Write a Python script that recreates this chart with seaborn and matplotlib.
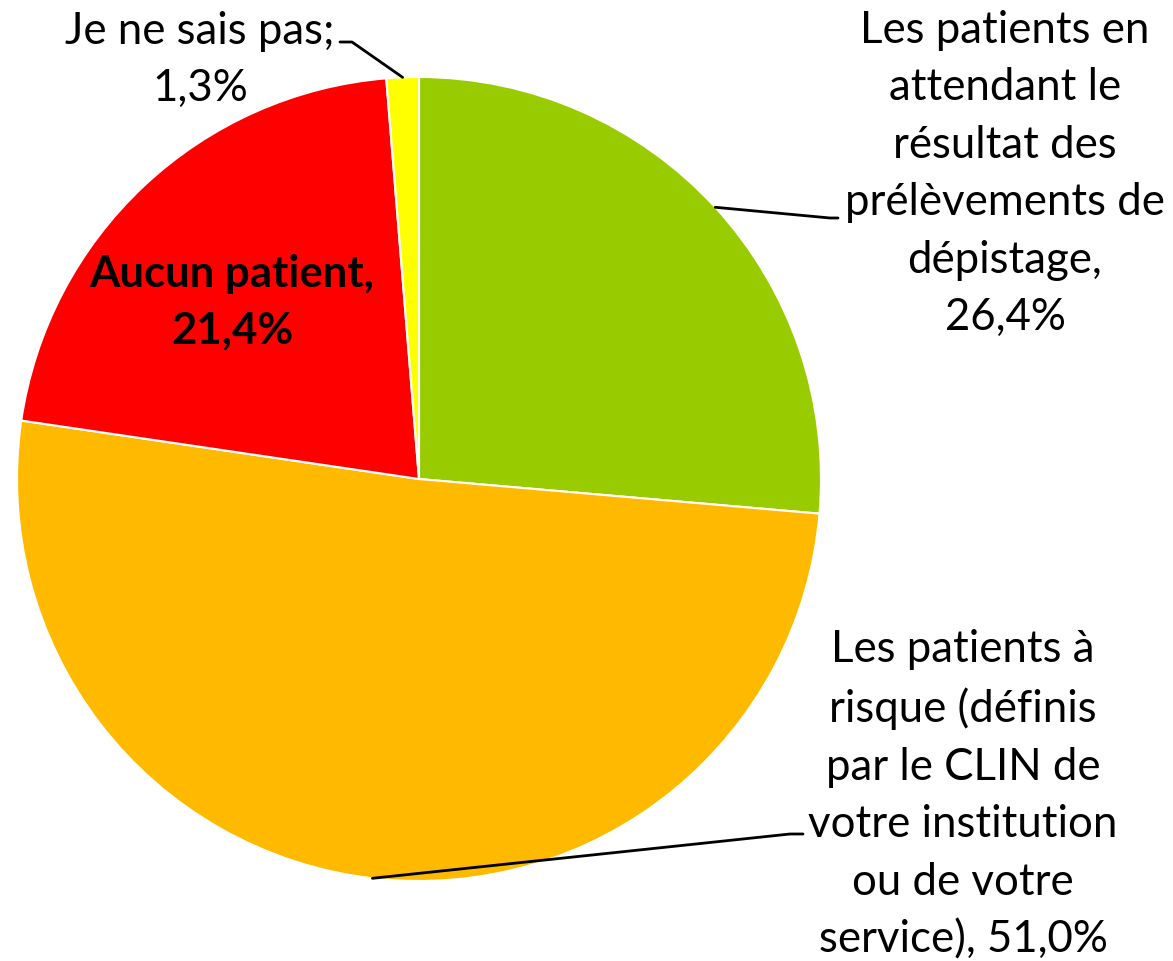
import numpy as np
import matplotlib
matplotlib.use("Agg")
import matplotlib.pyplot as plt
import seaborn as sns

categories = [
    "Les patients en\nattendant le\nrésultat des\nprélèvements de\ndépistage,",
    "Les patients à\nrisque (définis\npar le CLIN de\nvotre institution\nou de votre\nservice),",
    "Aucun patient,",
    "Je ne sais pas;",
]
values = [26.4, 51.0, 21.4, 1.3]
colors = ["#99CC00", "#FFBA00", "#FF0000", "#FFFF00"]

sns.set_theme(style="white")
plt.rcParams["font.family"] = ["Lato", "DejaVu Sans"]

fig = plt.figure(figsize=(11.73, 9.61), dpi=100)
ax = fig.add_axes([0, 0, 1, 1])

# pie centre at pixel (419, 479), radius 402
R = 402.0
def px(x, y):
    return (x - 419) / R, (479 - y) / R

wedges, _ = ax.pie(values, colors=sns.color_palette(colors), startangle=90,
                   counterclock=False, radius=1,
                   wedgeprops=dict(edgecolor="white", linewidth=1.5))
ax.set_xlim(-419 / R, (1173 - 419) / R)
ax.set_ylim(-(961 - 479) / R, 479 / R)
ax.set_aspect("equal")
ax.axis("off")

def fmt(v):
    return f"{v:.1f}%".replace(".", ",")

fs = 31.5
labels = [
    (categories[0] + "\n" + fmt(values[0]), px(1005, 174), "normal"),
    (categories[1] + " " + fmt(values[1]), px(963, 795), "normal"),
    (categories[2] + "\n" + fmt(values[2]), px(232, 302), "bold"),
    (categories[3] + "\n" + fmt(values[3]), px(200, 60), "normal"),
]
for text, (x, y), w in labels:
    ax.text(x, y, text, ha="center", va="center", fontsize=fs,
            fontweight=w, color="black", linespacing=1.5)

# leader lines from wedge middles to labels
elbows = {0: [px(830, 218), px(838, 218)],
          1: [px(790, 834), px(803, 834)],
          3: [px(352, 42), px(340, 42)]}
for i, pts in elbows.items():
    w = wedges[i]
    a = np.deg2rad((w.theta1 + w.theta2) / 2)
    xs = [np.cos(a)] + [p[0] for p in pts]
    ys = [np.sin(a)] + [p[1] for p in pts]
    ax.plot(xs, ys, color="black", lw=2)

fig.savefig("out.png", dpi=100)
